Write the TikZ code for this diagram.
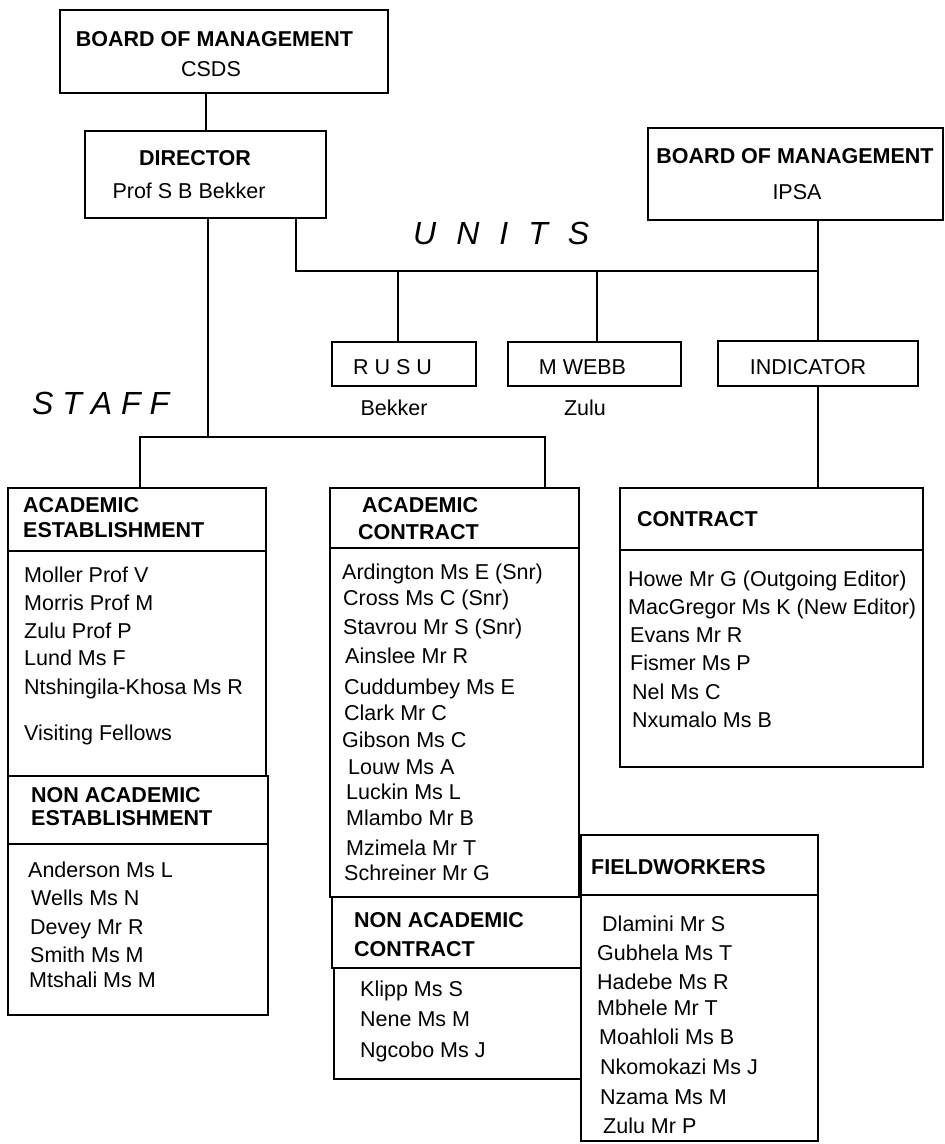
\documentclass[tikz,border=0pt]{standalone}
\usepackage{fontspec}
\setmainfont{Liberation Sans}
\begin{document}
\begin{tikzpicture}[x=1pt,y=-1pt,
  box/.style={draw,line width=1.5pt,inner sep=0pt,outer sep=0pt,anchor=north west},
  txt/.style={inner sep=0pt,anchor=base west,font=\fontsize{21.5}{26}\selectfont},
  ctxt/.style={inner sep=0pt,anchor=base,font=\fontsize{21.5}{26}\selectfont},
  hd/.style={txt,font=\fontsize{21.5}{26}\selectfont\bfseries},
  chd/.style={ctxt,font=\fontsize{21.5}{26}\selectfont\bfseries},
  big/.style={inner sep=0pt,anchor=base west,font=\fontsize{32}{36}\selectfont\itshape},
  ln/.style={line width=1.5pt}]
\fill[white] (0,0) rectangle (945,1144);
\useasboundingbox (0,0) rectangle (945,1144);
% top boxes
\node[box,minimum width=328pt,minimum height=83pt] (bomc) at (60,10) {};
\node[chd] (bomct) at (214.5,46.7) {BOARD OF MANAGEMENT};
\node[ctxt] (csds) at (211,76.7) {CSDS};
\node[box,minimum width=241pt,minimum height=87pt] (dir) at (85,131) {};
\node[chd] (dirt) at (195,165.7) {DIRECTOR};
\node[ctxt] (dirn) at (189,198.7) {Prof S B Bekker};
\node[box,minimum width=295pt,minimum height=92pt] (ipsa) at (648,128) {};
\node[chd] (ipsat) at (795,163.7) {BOARD OF MANAGEMENT};
\node[ctxt] (ipsan) at (797,199.7) {IPSA};
% units
\node[big] (units) at (413,244.5) {\spaceskip=20pt U N I T S};
\node[box,minimum width=144pt,minimum height=44pt] (rusu) at (332,342) {};
\node[ctxt] (rusut) at (392.5,374.7) {R U S U};
\node[box,minimum width=173pt,minimum height=44pt] (mwebb) at (508,342) {};
\node[ctxt] (mwebbt) at (582.5,374.7) {M WEBB};
\node[box,minimum width=200pt,minimum height=45pt] (ind) at (718,341) {};
\node[ctxt] (indt) at (808,374.7) {INDICATOR};
\node[ctxt] (bek) at (394,415.7) {Bekker};
\node[ctxt] (zul) at (585,415.7) {Zulu};
\node[big] (staff) at (32,414.5) {S T A F F};
% connectors
\coordinate (bx) at (206,0);
\draw[ln] (bx |- bomc.south) -- (bx |- dir.north);
\coordinate (ul) at (296,271);
\coordinate (ur) at (818,271);
\coordinate (u1) at (398,271);
\coordinate (u2) at (597,271);
\draw[ln] (ul |- dir.south) -- (ul) -- (ur);
\draw[ln] (ur |- ipsa.south) -- (ur |- ind.north);
\draw[ln] (u1) -- (u1 |- rusu.north);
\draw[ln] (u2) -- (u2 |- mwebb.north);
\coordinate (sv) at (208,437);
\coordinate (sl) at (140,437);
\coordinate (sr) at (545,437);
% left column
\node[box,minimum width=258pt,minimum height=63pt] (aeh) at (8,488) {};
\node[box,minimum width=258pt,minimum height=225pt] (aeb) at (8,551) {};
\node[hd] (aeh1) at (23,512.7) {ACADEMIC};
\node[hd] (aeh2) at (23,537.7) {ESTABLISHMENT};
\node[txt] (a1) at (24,582.7) {Moller Prof V};
\node[txt] (a2) at (24,610.7) {Morris Prof M};
\node[txt] (a3) at (24,638.7) {Zulu Prof P};
\node[txt] (a4) at (24,665.7) {Lund Ms F};
\node[txt] (a5) at (24,694.7) {Ntshingila-Khosa Ms R};
\node[txt] (a6) at (24,740.7) {Visiting Fellows};
\node[box,minimum width=260pt,minimum height=68pt] (naeh) at (8,776) {};
\node[box,minimum width=260pt,minimum height=171pt] (naeb) at (8,844) {};
\node[hd] (naeh1) at (31,802.7) {NON ACADEMIC};
\node[hd] (naeh2) at (31,825.7) {ESTABLISHMENT};
\node[txt] (b1) at (28,877.7) {Anderson Ms L};
\node[txt] (b2) at (31,905.7) {Wells Ms N};
\node[txt] (b3) at (30,934.7) {Devey Mr R};
\node[txt] (b4) at (30,962.7) {Smith Ms M};
\node[txt] (b5) at (29,987.7) {Mtshali Ms M};
% middle column
\node[box,minimum width=249pt,minimum height=60pt] (ach) at (330,488) {};
\node[box,minimum width=249pt,minimum height=349pt] (acb) at (330,548) {};
\node[hd] (ach1) at (362,512.7) {ACADEMIC};
\node[hd] (ach2) at (358,539.7) {CONTRACT};
\node[txt] (c1) at (342,579.7) {Ardington Ms E (Snr)};
\node[txt] (c2) at (343,605.7) {Cross Ms C (Snr)};
\node[txt] (c3) at (343,634.7) {Stavrou Mr S (Snr)};
\node[txt] (c4) at (345,663.7) {Ainslee Mr R};
\node[txt] (c5) at (344,694.7) {Cuddumbey Ms E};
\node[txt] (c6) at (344,720.7) {Clark Mr C};
\node[txt] (c7) at (342,747.7) {Gibson Ms C};
\node[txt] (c8) at (348,774.7) {Louw Ms A};
\node[txt] (c9) at (346,799.7) {Luckin Ms L};
\node[txt] (c10) at (346,825.7) {Mlambo Mr B};
\node[txt] (c11) at (346,855.7) {Mzimela Mr T};
\node[txt] (c12) at (344,880.7) {Schreiner Mr G};
\node[box,minimum width=249pt,minimum height=71pt] (nach) at (332,897) {};
\node[box,minimum width=247pt,minimum height=111pt] (nacb) at (334,968) {};
\node[hd] (nach1) at (354,927.7) {NON ACADEMIC};
\node[hd] (nach2) at (354,956.7) {CONTRACT};
\node[txt] (d1) at (360,996.7) {Klipp Ms S};
\node[txt] (d2) at (360,1026.7) {Nene Ms M};
\node[txt] (d3) at (360,1057.7) {Ngcobo Ms J};
% right column
\node[box,minimum width=303pt,minimum height=62pt] (cth) at (620,488) {};
\node[box,minimum width=303pt,minimum height=217pt] (ctb) at (620,550) {};
\node[hd] (cth1) at (637,526.7) {CONTRACT};
\node[txt] (e1) at (628,586.7) {Howe Mr G (Outgoing Editor)};
\node[txt] (e2) at (628,614.7) {MacGregor Ms K (New Editor)};
\node[txt] (e3) at (630,642.7) {Evans Mr R};
\node[txt] (e4) at (630,670.7) {Fismer Ms P};
\node[txt] (e5) at (632,699.7) {Nel Ms C};
\node[txt] (e6) at (632,727.7) {Nxumalo Ms B};
\node[box,minimum width=237pt,minimum height=60pt] (fwh) at (581,835) {};
\node[box,minimum width=237pt,minimum height=246pt] (fwb) at (581,895) {};
\node[hd] (fwh1) at (591,874.7) {FIELDWORKERS};
\node[txt] (f1) at (602,931.7) {Dlamini Mr S};
\node[txt] (f2) at (597,960.7) {Gubhela Ms T};
\node[txt] (f3) at (597,989.7) {Hadebe Ms R};
\node[txt] (f4) at (597,1015.7) {Mbhele Mr T};
\node[txt] (f5) at (599,1044.7) {Moahloli Ms B};
\node[txt] (f6) at (600,1074.7) {Nkomokazi Ms J};
\node[txt] (f7) at (600,1104.7) {Nzama Ms M};
\node[txt] (f8) at (603,1133.7) {Zulu Mr P};
% staff connectors
\draw[ln] (sv |- dir.south) -- (sv);
\draw[ln] (sl |- aeh.north) -- (sl) -- (sr) -- (sr |- ach.north);
\draw[ln] (ur |- ind.south) -- (ur |- cth.north);
\end{tikzpicture}
\end{document}
